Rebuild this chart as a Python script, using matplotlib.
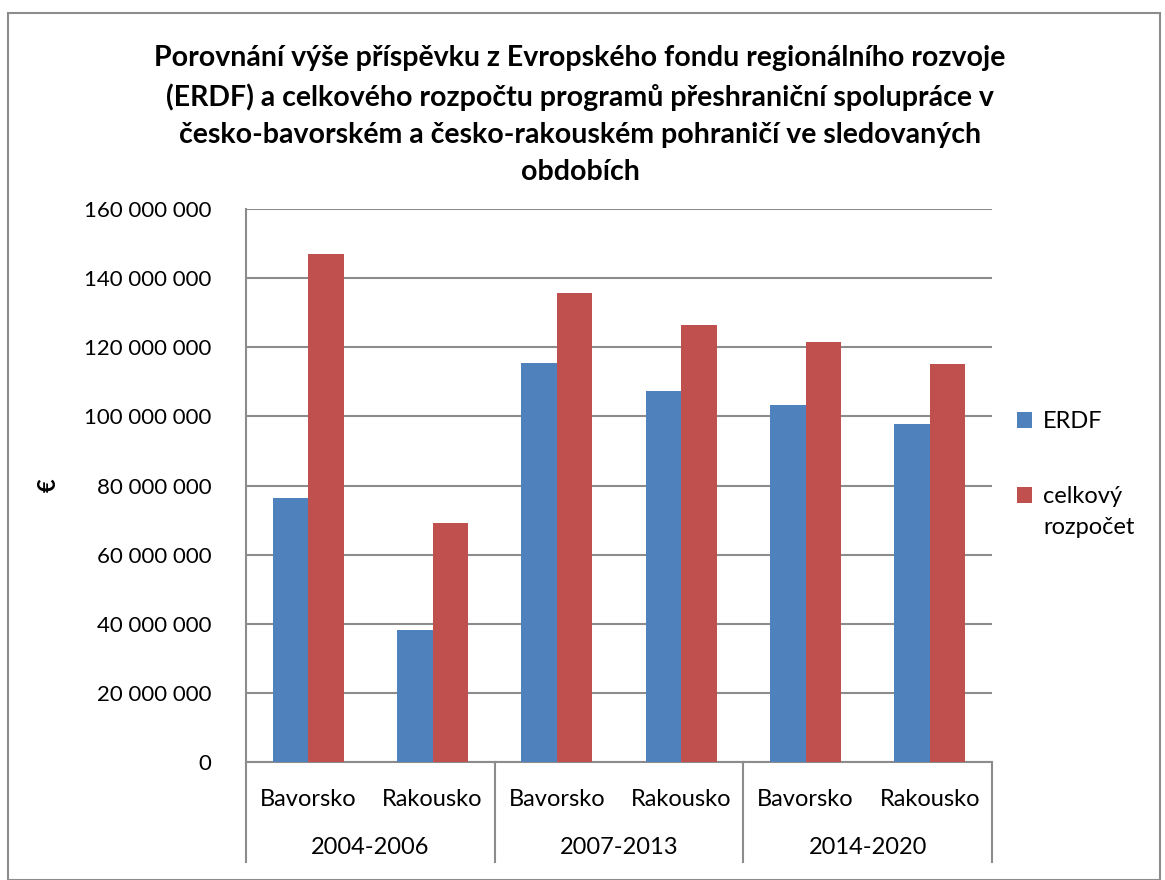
import matplotlib
matplotlib.use("Agg")
import matplotlib.pyplot as plt
from matplotlib.patches import Rectangle
from matplotlib.lines import Line2D
import numpy as np

plt.rcParams['font.family'] = ['Lato', 'DejaVu Sans']

periods = ["2004-2006", "2007-2013", "2014-2020"]
regions = ["Bavorsko", "Rakousko"]
erdf = [76.4e6, 38.3e6, 115.5e6, 107.4e6, 103.3e6, 97.8e6]
celkovy = [147.0e6, 69.2e6, 135.8e6, 126.5e6, 121.6e6, 115.2e6]
yticks = list(range(0, 160_000_001, 20_000_000))
series_names = ["ERDF", "celkový", "rozpočet"]

title = ("Porovnání výše příspěvku z Evropského fondu regionálního rozvoje\n"
         "(ERDF) a celkového rozpočtu programů přeshraniční spolupráce v\n"
         "česko-bavorském a česko-rakouském pohraničí ve sledovaných\n"
         "obdobích")

W, H = 1165, 880
fig = plt.figure(figsize=(W / 100, H / 100), dpi=100)
ax = fig.add_axes([246 / W, 1 - 762 / H, (992 - 246) / W, (762 - 209) / H])

n = len(erdf)
x = np.arange(n)
bw = 1 / 3.5
blue = "#4F81BD"
red = "#C0504D"
ax.bar(x - bw / 2, erdf, bw, color=blue, label=series_names[0], zorder=3)
ax.bar(x + bw / 2, celkovy, bw, color=red, label=series_names[1], zorder=3)

ax.set_xlim(-0.5, n - 0.5)
ax.set_ylim(0, 160e6)
ax.set_yticks(yticks)
ax.set_yticklabels([f"{v:,}".replace(",", " ") for v in yticks], fontsize=16)
ax.tick_params(axis='y', length=0, pad=25)
ax.tick_params(axis='x', length=0)
ax.set_xticks([])
grid_c = "#8c8c8c"
ax.grid(axis='y', color=grid_c, linewidth=1.5, zorder=0)
for s in ['top', 'right']:
    ax.spines[s].set_visible(False)
ax.spines['left'].set_color(grid_c)
ax.spines['left'].set_linewidth(1.5)
ax.spines['bottom'].set_color(grid_c)
ax.spines['bottom'].set_linewidth(1.5)

# hierarchical category labels
trans = ax.get_xaxis_transform()
for i in range(n):
    ax.text(x[i], -0.068, regions[i % 2], transform=trans, ha='center', va='center', fontsize=17)
for g, p in enumerate(periods):
    ax.text(2 * g + 0.5, -0.155, p, transform=trans, ha='center', va='center', fontsize=17)
for b in [-0.5, 1.5, 3.5, 5.5]:
    ax.add_line(Line2D([b, b], [0, -0.181], transform=trans, color=grid_c,
                       linewidth=1.5, clip_on=False))

ax.set_ylabel("€", fontsize=17, fontweight='bold')
ax.yaxis.set_label_coords(-0.249, 0.5)

fig.text(580 / W, 1 - 115 / H, title, ha='center', va='center', fontsize=20.5,
         fontweight='bold', linespacing=1.52)

leg = fig.legend(loc='upper left', bbox_to_anchor=(1010 / W, 1 - 404 / H), frameon=False,
                 fontsize=17, handlelength=0.65, handleheight=0.65, labelspacing=2.3,
                 handletextpad=0.45, borderaxespad=0, borderpad=0.3)
fig.text(1043 / W, 1 - 528 / H, series_names[2], fontsize=17, ha='left', va='center')

fig.patches.append(Rectangle((8 / W, 0), (1160 - 8) / W, 1 - 13 / H, transform=fig.transFigure,
                             fill=False, edgecolor="#8c8c8c", linewidth=1.5))

fig.savefig("out.png", dpi=100)
